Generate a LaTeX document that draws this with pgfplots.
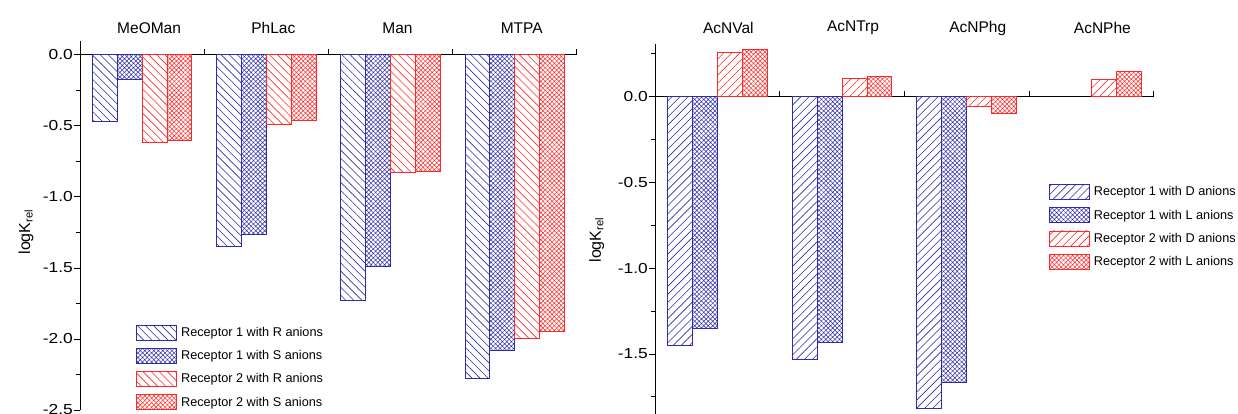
\documentclass[border=0pt]{standalone}
\usepackage{fontspec}
\setmainfont{Liberation Sans}
\newfontfamily\tickfont[FakeStretch=1.2]{Liberation Sans}
\usepackage{pgfplots}
\pgfplotsset{compat=1.18}
\usetikzlibrary{patterns.meta}
\definecolor{cBlue}{RGB}{45,45,170}
\definecolor{cRed}{RGB}{255,40,40}
\pgfplotsset{
  mybar/.style={ybar, bar width=0.2, line width=0.8pt,
    legend image code/.code={\draw[##1] (0pt,-7.5pt) rectangle (40pt,7.5pt);}},
  pBack/.style={mybar, draw=#1, pattern={Lines[angle=-45,distance=5.7pt,line width=0.6pt]}, pattern color=#1},
  pFwd/.style={mybar, draw=#1, pattern={Lines[angle=45,distance=5.7pt,line width=0.6pt]}, pattern color=#1},
  pX/.style={mybar, draw=#1, pattern={Hatch[angle=45,distance=3.2pt,line width=0.5pt]}, pattern color=#1},
  myaxis/.style={
    scale only axis, clip=false,
    axis y line=left, axis x line=middle,
    axis line style={-, line width=0.9pt, black},
    tick style={line width=0.9pt, black},
    major tick length=6pt, minor tick length=4pt,
    xtick align=inside, ytick align=outside,
    hide obscured x ticks=false, hide obscured y ticks=false,
    xmin=-0.5, xmax=3.5,
    xtick={-0.5,0.5,1.5,2.5,3.5}, xticklabels={{},{},{},{},{}},
    yticklabel style={/pgf/number format/fixed, /pgf/number format/fixed zerofill,
      /pgf/number format/precision=1, /pgf/number format/assume math mode=true,
      font=\tickfont\fontsize{14.5}{15}\selectfont, inner sep=1pt},
    ylabel style={anchor=center, font=\fontsize{16}{16}\selectfont},
    legend cell align=left,
    legend style={draw=none, fill=none, anchor=north west, inner sep=0pt, outer sep=0pt,
      font=\fontsize{12.7}{14}\selectfont, row sep=7.4pt,
      nodes={inner sep=0pt},
      /tikz/every odd column/.append style={column sep=4.3pt}},
  },
}
\begin{document}
\begin{tikzpicture}
\path[use as bounding box] (0,0) rectangle (1238pt,414pt);
\begin{axis}[myaxis, at={(80pt,4pt)}, anchor=south west,
  width=496.8pt, height=369.3pt,
  ymin=-2.5, ymax=0.1,
  ytick={-2.5,-2,-1.5,-1,-0.5,0},
  minor ytick={-2.25,-1.75,-1.25,-0.75,-0.25},
  ylabel={logK\textsubscript{rel}},
  ylabel style={at={(axis description cs:-0.1087,0.482)}},
  legend style={at={(axis description cs:0.1127,0.2307)}}]
\addplot[pBack=cBlue, bar shift=-0.3] coordinates {(0,-0.47) (1,-1.35) (2,-1.73) (3,-2.28)};
\addplot[pX=cBlue, bar shift=-0.1] coordinates {(0,-0.17) (1,-1.265) (2,-1.49) (3,-2.08)};
\addplot[pBack=cRed, bar shift=0.1] coordinates {(0,-0.615) (1,-0.49) (2,-0.83) (3,-1.995)};
\addplot[pX=cRed, bar shift=0.3] coordinates {(0,-0.60) (1,-0.46) (2,-0.82) (3,-1.945)};
\legend{Receptor 1 with R anions, Receptor 1 with S anions, Receptor 2 with R anions, Receptor 2 with S anions}
\node[font=\fontsize{15.5}{16}\selectfont] at (rel axis cs:0.125,1) [yshift=12.4pt, xshift=7pt] {MeOMan};
\node[font=\fontsize{15.5}{16}\selectfont] at (rel axis cs:0.375,1) [yshift=12.4pt, xshift=7pt] {PhLac};
\node[font=\fontsize{15.5}{16}\selectfont] at (rel axis cs:0.625,1) [yshift=12.4pt, xshift=7pt] {Man};
\node[font=\fontsize{15.5}{16}\selectfont] at (rel axis cs:0.875,1) [yshift=12.4pt, xshift=7pt] {MTPA};
\end{axis}
\begin{axis}[myaxis, at={(655pt,0pt)}, anchor=south west,
  width=498.7pt, height=369.7pt,
  ymin=-1.85, ymax=0.3055,
  ytick={-1.5,-1,-0.5,0},
  minor ytick={-1.75,-1.25,-0.75,-0.25,0.25},
  ylabel={logK\textsubscript{rel}},
  ylabel style={at={(axis description cs:-0.117,0.4707)}},
  legend style={at={(axis description cs:0.7895,0.6216)}}]
\addplot[pFwd=cBlue, bar shift=-0.3] coordinates {(0,-1.448) (1,-1.531) (2,-1.817)};
\addplot[pX=cBlue, bar shift=-0.1] coordinates {(0,-1.351) (1,-1.432) (2,-1.665)};
\addplot[pFwd=cRed, bar shift=0.1] coordinates {(0,0.257) (1,0.107) (2,-0.058) (3,0.103)};
\addplot[pX=cRed, bar shift=0.3] coordinates {(0,0.276) (1,0.117) (2,-0.097) (3,0.146)};
\legend{Receptor 1 with D anions, Receptor 1 with L anions, Receptor 2 with D anions, Receptor 2 with L anions}
\node[font=\fontsize{15.5}{16}\selectfont] at (rel axis cs:0.125,1) [yshift=16.3pt, xshift=11pt] {AcNVal};
\node[font=\fontsize{15.5}{16}\selectfont] at (rel axis cs:0.375,1) [yshift=16.3pt, xshift=11pt] {AcNTrp};
\node[font=\fontsize{15.5}{16}\selectfont] at (rel axis cs:0.625,1) [yshift=16.3pt, xshift=11pt] {AcNPhg};
\node[font=\fontsize{15.5}{16}\selectfont] at (rel axis cs:0.875,1) [yshift=16.3pt, xshift=11pt] {AcNPhe};
\end{axis}
\end{tikzpicture}
\end{document}
